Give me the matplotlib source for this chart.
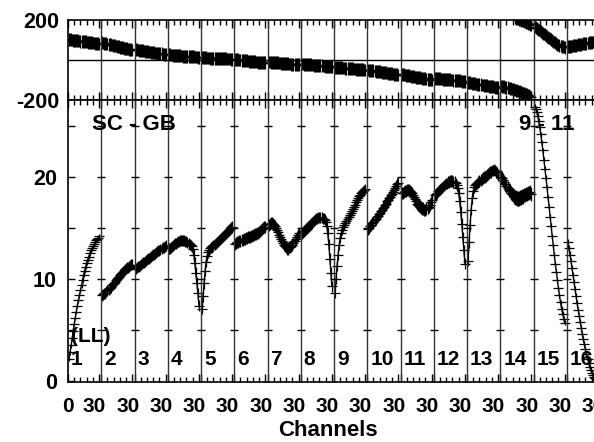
import numpy as np
import matplotlib
matplotlib.use('Agg')
import matplotlib.pyplot as plt

plt.rcParams['font.family'] = ['Liberation Sans', 'DejaVu Sans']
plt.rcParams['font.weight'] = 'bold'

# channels per window and window count
n_win = 16
n_chan = 32
chans = np.arange(1, 31)

# amplitude per window (channels 1..30)
amp = [
    [2.2, 2.8, 3.5, 4.2, 4.9, 5.6, 6.2, 6.8, 7.4, 7.9, 8.4, 8.9, 9.4, 9.9, 10.4, 10.8, 11.2, 11.6, 11.9, 12.2, 12.5, 12.8, 13.0, 13.2, 13.4, 13.6, 13.8, 13.9, 14.0, 14.2],
    [8.4, 8.5, 8.6, 8.6, 8.8, 8.9, 9.0, 9.1, 9.2, 9.4, 9.5, 9.6, 9.7, 9.9, 10.0, 10.1, 10.2, 10.4, 10.5, 10.6, 10.7, 10.8, 10.9, 11.0, 11.1, 11.1, 11.2, 11.3, 11.4, 11.4],
    [11.0, 11.1, 11.2, 11.2, 11.3, 11.4, 11.5, 11.6, 11.6, 11.7, 11.8, 11.9, 12.0, 12.0, 12.1, 12.2, 12.3, 12.4, 12.4, 12.5, 12.6, 12.7, 12.8, 12.8, 12.9, 13.0, 13.1, 13.1, 13.2, 13.3],
    [13.0, 13.0, 13.1, 13.2, 13.3, 13.4, 13.5, 13.5, 13.6, 13.7, 13.7, 13.8, 13.8, 13.8, 13.8, 13.8, 13.7, 13.7, 13.6, 13.5, 13.4, 13.3, 13.2, 12.9, 12.4, 11.6, 10.6, 9.6, 8.6, 7.4],
    [7.1, 8.3, 9.6, 10.8, 11.7, 12.3, 12.6, 12.8, 13.0, 13.1, 13.2, 13.3, 13.4, 13.5, 13.6, 13.7, 13.8, 13.9, 14.0, 14.1, 14.2, 14.3, 14.4, 14.5, 14.6, 14.7, 14.8, 14.9, 15.0, 15.1],
    [13.4, 13.5, 13.6, 13.6, 13.7, 13.7, 13.8, 13.8, 13.9, 13.9, 14.0, 14.0, 14.1, 14.1, 14.1, 14.2, 14.2, 14.3, 14.3, 14.4, 14.4, 14.5, 14.5, 14.6, 14.7, 14.8, 14.9, 15.0, 15.1, 15.1],
    [15.3, 15.4, 15.5, 15.5, 15.4, 15.3, 15.2, 15.0, 14.8, 14.6, 14.3, 14.1, 13.9, 13.7, 13.5, 13.3, 13.2, 13.1, 13.0, 13.0, 13.1, 13.1, 13.2, 13.3, 13.5, 13.7, 13.9, 14.1, 14.3, 14.5],
    [14.5, 14.6, 14.7, 14.8, 14.9, 15.0, 15.1, 15.2, 15.3, 15.4, 15.5, 15.6, 15.7, 15.8, 15.9, 15.9, 16.0, 16.0, 16.0, 16.0, 15.9, 15.9, 15.8, 15.6, 15.2, 14.5, 13.4, 12.0, 10.6, 9.3],
    [8.6, 10.0, 11.3, 12.4, 13.3, 14.0, 14.5, 14.8, 15.1, 15.3, 15.5, 15.7, 15.9, 16.1, 16.3, 16.5, 16.7, 16.9, 17.1, 17.3, 17.5, 17.7, 17.9, 18.1, 18.2, 18.4, 18.5, 18.6, 18.7, 18.8],
    [14.9, 15.0, 15.2, 15.3, 15.5, 15.6, 15.8, 15.9, 16.1, 16.2, 16.4, 16.5, 16.7, 16.8, 17.0, 17.1, 17.3, 17.4, 17.6, 17.7, 17.9, 18.0, 18.2, 18.3, 18.5, 18.7, 18.9, 19.1, 19.3, 19.4],
    [18.4, 18.4, 18.5, 18.6, 18.6, 18.7, 18.7, 18.7, 18.6, 18.5, 18.4, 18.2, 18.0, 17.8, 17.6, 17.4, 17.3, 17.2, 17.1, 17.0, 16.9, 16.9, 16.8, 16.8, 16.9, 17.0, 17.1, 17.3, 17.5, 17.7],
    [18.2, 18.3, 18.4, 18.6, 18.7, 18.8, 18.9, 19.0, 19.1, 19.2, 19.3, 19.4, 19.4, 19.5, 19.5, 19.6, 19.6, 19.6, 19.5, 19.5, 19.4, 19.2, 18.9, 18.4, 17.6, 16.6, 15.4, 14.1, 12.8, 11.5],
    [11.8, 13.6, 15.3, 16.8, 17.9, 18.6, 19.0, 19.2, 19.3, 19.4, 19.5, 19.6, 19.7, 19.8, 19.9, 20.0, 20.0, 20.1, 20.2, 20.3, 20.4, 20.5, 20.5, 20.6, 20.6, 20.7, 20.6, 20.5, 20.4, 20.2],
    [20.0, 19.9, 19.7, 19.5, 19.3, 19.1, 18.9, 18.7, 18.6, 18.4, 18.3, 18.2, 18.1, 18.0, 18.0, 17.9, 17.9, 17.9, 18.0, 18.0, 18.1, 18.1, 18.2, 18.2, 18.3, 18.3, 18.4, 18.4, 18.5, 18.3],
    [26.9, 26.7, 26.4, 26.0, 25.5, 24.9, 24.2, 23.4, 22.6, 21.7, 20.8, 19.9, 19.0, 18.0, 17.1, 16.1, 15.2, 14.2, 13.3, 12.4, 11.5, 10.7, 9.9, 9.1, 8.4, 7.7, 7.1, 6.6, 6.1, 5.7],
    [13.6, 13.0, 12.4, 11.8, 11.1, 10.4, 9.7, 9.0, 8.3, 7.6, 7.0, 6.4, 5.8, 5.2, 4.6, 4.1, 3.6, 3.1, 2.6, 2.2, 1.8, 1.4, 1.1, 0.8, 0.6, 0.4, 0.3, 0.2, 0.1, 0.1],
]
amp_err = [0.25, 0.55, 0.55, 0.55, 0.55, 0.6, 0.6, 0.55, 0.5, 0.6, 0.6, 0.55, 0.55, 0.7, 0.25, 0.3]

# phase per window (degrees)
phase = [
    [102, 101, 101, 100, 99, 99, 98, 97, 97, 96, 95, 94, 94, 93, 92, 91, 91, 90, 89, 88, 88, 87, 86, 85, 85, 84, 83, 82, 81, 80],
    [86, 85, 84, 82, 81, 80, 79, 77, 76, 75, 74, 72, 71, 70, 68, 67, 66, 64, 63, 62, 61, 59, 58, 57, 56, 55, 54, 53, 51, 50],
    [52, 51, 50, 49, 48, 48, 47, 46, 45, 44, 43, 42, 41, 40, 40, 39, 38, 37, 36, 35, 34, 33, 33, 32, 31, 31, 30, 29, 29, 28],
    [26, 26, 25, 25, 24, 24, 23, 23, 22, 22, 21, 21, 20, 20, 19, 19, 19, 18, 18, 17, 17, 17, 16, 16, 16, 15, 15, 15, 14, 14],
    [12, 12, 11, 11, 11, 10, 10, 10, 9, 9, 9, 9, 8, 8, 8, 8, 7, 7, 7, 7, 6, 6, 6, 6, 5, 5, 5, 5, 4, 4],
    [3, 2, 2, 1, 0, 0, -1, -2, -2, -3, -4, -4, -5, -6, -6, -7, -8, -8, -9, -9, -10, -10, -11, -11, -12, -12, -13, -13, -14, -14],
    [-10, -10, -11, -11, -12, -12, -13, -13, -14, -14, -15, -15, -16, -16, -17, -17, -18, -18, -19, -19, -20, -20, -21, -21, -22, -22, -23, -23, -24, -24],
    [-20, -20, -21, -21, -22, -22, -23, -23, -24, -24, -25, -25, -26, -26, -27, -27, -28, -28, -29, -29, -30, -30, -31, -31, -32, -32, -32, -33, -33, -33],
    [-36, -36, -37, -37, -38, -38, -39, -39, -40, -40, -41, -41, -42, -42, -43, -43, -44, -44, -45, -45, -46, -46, -47, -47, -48, -48, -49, -49, -50, -50],
    [-50, -51, -52, -53, -53, -54, -55, -56, -57, -58, -58, -59, -60, -61, -62, -63, -63, -64, -65, -66, -67, -68, -68, -69, -70, -71, -72, -73, -74, -75],
    [-72, -73, -74, -75, -76, -77, -78, -79, -80, -81, -82, -83, -84, -85, -86, -86, -87, -88, -89, -90, -91, -92, -93, -94, -95, -96, -97, -98, -99, -100],
    [-92, -92, -93, -93, -94, -94, -95, -95, -96, -96, -97, -97, -98, -98, -99, -99, -100, -100, -101, -102, -102, -103, -103, -104, -104, -105, -106, -106, -107, -108],
    [-112, -113, -114, -115, -116, -117, -118, -119, -120, -121, -122, -123, -124, -125, -125, -126, -127, -128, -129, -130, -131, -132, -133, -133, -134, -135, -136, -137, -137, -138],
    [-130, -131, -133, -134, -136, -137, -139, -140, -142, -143, -145, -147, -148, -150, -152, -153, -155, -157, -159, -161, -163, -165, -167, -169, -171, -173, -176, -178, -181, -185],
    [165, 162, 158, 154, 150, 146, 142, 138, 134, 130, 126, 122, 118, 114, 110, 106, 102, 98, 94, 90, 86, 82, 78, 75, 72, 70, 68, 66, 65, 64],
    [66, 67, 68, 69, 70, 71, 72, 73, 74, 75, 76, 77, 78, 79, 80, 81, 82, 83, 84, 85, 86, 87, 88, 89, 90, 91, 92, 93, 94, 95],
]
phase_err = 32

W, H = 594, 442
fig = plt.figure(figsize=(W / 100, H / 100), dpi=100)
ax_ph = fig.add_axes([68 / W, 1 - 100 / H, 532 / W, 80 / H])
ax_am = fig.add_axes([68 / W, 1 - 382 / H, 532 / W, 282 / H])

bounds = [k * n_chan for k in range(1, n_win)]
eb = dict(fmt='none', ecolor='k', elinewidth=0.9, capsize=0, xerr=4.8)

for w in range(n_win):
    x = w * n_chan + chans
    a = np.array(amp[w])
    p = np.array(phase[w])
    ax_am.errorbar(x, a, yerr=amp_err[w], **eb)
    ax_am.plot(x, a, 'k-', lw=1.0)
    ax_ph.errorbar(x, p, yerr=phase_err, **eb)
    ax_ph.plot(x, p, 'k-', lw=1.0)
    # error bars that run past -180 come back in at the top
    wrap = p - phase_err < -180
    if wrap.any():
        ax_ph.errorbar(x[wrap], p[wrap] + 360, yerr=phase_err, **eb)

for ax in (ax_ph, ax_am):
    ax.set_xlim(0, n_win * n_chan)
    for b in bounds:
        ax.axvline(b, color='0.2', lw=1)
    major = sorted([k * n_chan for k in range(n_win)] + [k * n_chan + 30 for k in range(n_win)])
    minor = [k * n_chan + c for k in range(n_win) for c in (6, 12, 18, 24)]
    ax.set_xticks(major)
    ax.set_xticks(minor, minor=True)
    ax.tick_params(axis='x', which='both', direction='in', top=True, bottom=True,
                   labelbottom=False, width=1)
    ax.tick_params(axis='x', which='major', length=6)
    ax.tick_params(axis='x', which='minor', length=3.5)
    for s in ax.spines.values():
        s.set_linewidth(1.2)

# phase panel
ax_ph.set_ylim(-200, 200)
ax_ph.axhline(0, color='k', lw=1)
ax_ph.set_yticks([-200, 200])
ax_ph.set_yticklabels(['-200', '200'], fontsize=15.5, fontweight='bold')
ax_ph.tick_params(axis='y', length=0, pad=6)

# amplitude panel
ax_am.set_ylim(-0.1, 27.55)
ax_am.set_yticks([0, 5, 10, 15, 20, 25])
ax_am.set_yticklabels(['0', '', '10', '', '20', ''], fontsize=15.5, fontweight='bold')
ax_am.tick_params(axis='y', direction='in', length=5, width=1, pad=8)
for yv in [5, 10, 15, 20, 25]:
    ax_am.plot(bounds, [yv] * len(bounds), ls='none', marker='_', ms=6, mew=1, color='k')

# channel labels under the axis
tr = ax_am.get_xaxis_transform()
ax_am.text(0, -0.087, '0', transform=tr, ha='center', va='center', fontsize=15, fontweight='bold')
for k in range(n_win):
    ax_am.text(k * n_chan + 25.5, -0.087, '30', transform=tr, ha='center', va='center',
               fontsize=15, fontweight='bold', clip_on=False)

# window numbers
for k in range(n_win):
    ax_am.text(k * n_chan + 3, 2.1, str(k + 1), ha='left', va='center', fontsize=15, fontweight='bold')
ax_am.text(3, 4.4, '(LL)', ha='left', va='center', fontsize=15, fontweight='bold')
ax_am.text(23, 25.1, 'SC - GB', ha='left', va='center', fontsize=16, fontweight='bold')
ax_am.text(434, 25.1, '9 - 11', ha='left', va='center', fontsize=16, fontweight='bold')

fig.text(328 / W, 1 - 431 / H, 'Channels', ha='center', va='center', fontsize=16, fontweight='bold')

fig.savefig('out.png', dpi=100)
